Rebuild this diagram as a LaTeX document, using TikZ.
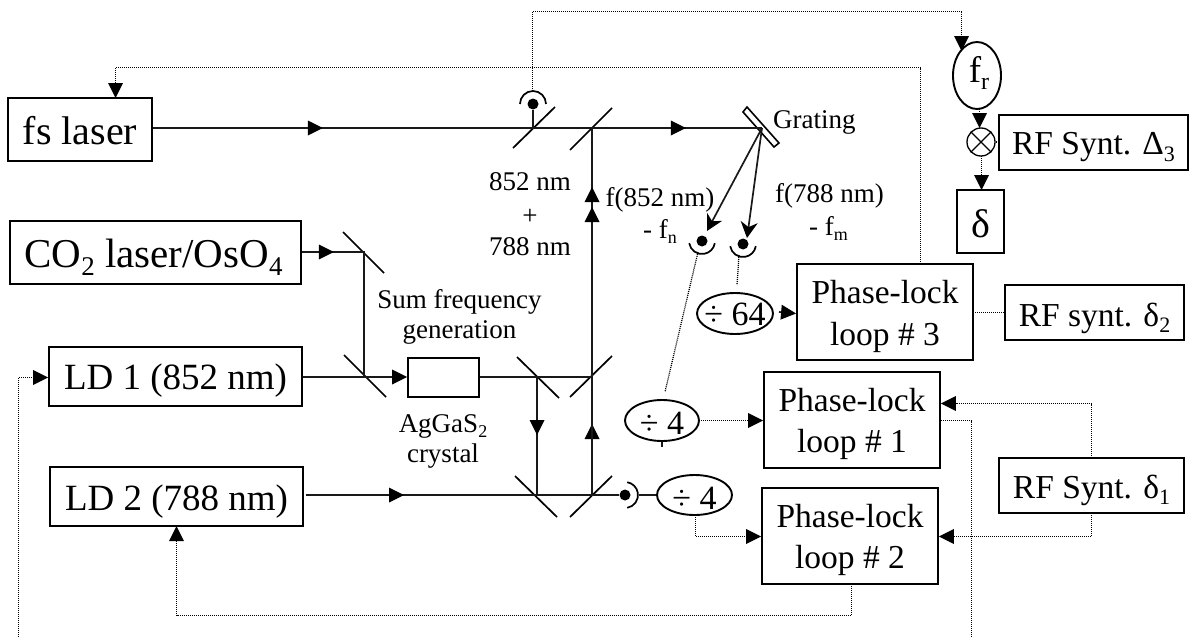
\documentclass[tikz,border=0pt]{standalone}
\usepackage{fontspec}
\setmainfont{Liberation Serif}
\usetikzlibrary{arrows.meta,shapes.geometric,decorations.markings}
\newcommand{\lowtext}[2]{\raisebox{-0.2em}{\fontsize{#1}{#1}\selectfont #2}}
\newcommand{\fsz}[1]{\fontsize{#1}{#1}\selectfont}
% text whose baseline lies #1 below the centre of its node, centre moved right by #2
\newcommand{\blx}[3][0pt]{\makebox[0pt][c]{\hspace*{#1}\hspace*{#1}\raisebox{-#2}[0pt][0pt]{#3}}}
\tikzset{
  x=1pt,y=-1pt,
  Tip/.tip={Triangle[length=15pt,width=15pt,black,line width=0pt]},
  boxed/.style={draw,line width=1.9pt,inner sep=0pt},
  oval/.style={draw,ellipse,line width=1.9pt,inner sep=0pt},
  label/.style={inner sep=0pt,anchor=base,font=\fsz{27}},
  beam/.style={line width=1.7pt,black!90},
  mirror/.style={line width=1.7pt},
  sig/.style={line width=1.25pt,dash pattern=on 1pt off 1pt,black},
  head/.style={-{Tip}},
  flowmark/.style={postaction={decorate,decoration={markings,mark=at position #1 with {\arrow[solid]{Tip}}}}},
  dot/.style={circle,fill=black,inner sep=0pt,minimum size=11pt},
  det/.style={line width=1.7pt},
}
\begin{document}
\begin{tikzpicture}
\useasboundingbox (0,0) rectangle (1192,637);

% boxes
\node[boxed,minimum width=144pt,minimum height=63pt,font=\fsz{40}] (fs) at (80,129.5) {\blx{15pt}{fs laser}};
\node[boxed,minimum width=291pt,minimum height=63pt,font=\fsz{41}] (co) at (155.5,252.5) {\blx[-2pt]{14.5pt}{CO\lowtext{27}{2} laser/OsO\lowtext{27}{4}}};
\node[boxed,minimum width=253pt,minimum height=59pt,font=\fsz{37}] (ld1) at (175.5,376.5) {\blx{13pt}{LD 1 (852 nm)}};
\node[boxed,minimum width=253pt,minimum height=59pt,font=\fsz{37}] (ld2) at (176.5,496.5) {\blx{13.5pt}{LD 2 (788 nm)}};
\node[boxed,minimum width=71pt,minimum height=39pt] (cr) at (443.5,377.5) {};
\node[boxed,minimum width=176pt,minimum height=96pt,font=\fsz{33.5}] (pll3) at (885,312) {\blx{-8.7pt}{Phase-lock}\blx{33pt}{loop \# 3}};
\node[boxed,minimum width=176pt,minimum height=96pt,font=\fsz{33.5}] (pll1) at (852,420) {\blx{-8.3pt}{Phase-lock}\blx{32.7pt}{loop \# 1}};
\node[boxed,minimum width=176pt,minimum height=96pt,font=\fsz{33.5}] (pll2) at (850,536) {\blx{-9pt}{Phase-lock}\blx{32pt}{loop \# 2}};
\node[boxed,minimum width=179pt,minimum height=55pt,font=\fsz{33.5}] (rf2) at (1094.5,312.5) {\blx{13.5pt}{RF synt. δ\lowtext{22}{2}}};
\node[boxed,minimum width=185pt,minimum height=55pt,font=\fsz{33.5}] (rf1) at (1091.5,485.5) {\blx{12.5pt}{RF Synt. δ\lowtext{22}{1}}};
\node[boxed,minimum width=189pt,minimum height=55pt,font=\fsz{33.5}] (rf3) at (1093.5,142.5) {\blx{12pt}{RF Synt. Δ\lowtext{22}{3}}};
\node[boxed,minimum width=47pt,minimum height=63pt,font=\fsz{40}] (dl) at (980.5,221.5) {\blx{15.5pt}{δ}};
\node[oval,minimum width=48pt,minimum height=67pt,font=\fsz{37}] (fr) at (977,75.5) {\blx[2pt]{6.5pt}{f\lowtext{24}{r}}};
\node[draw,circle,line width=1.3pt,minimum size=28pt,inner sep=0pt] (ot) at (981,142) {};
\draw[line width=1.3pt] (ot.45) -- (ot.225) (ot.135) -- (ot.315);
\node[oval,minimum width=76pt,minimum height=41pt,font=\fsz{34}] (d64) at (735,313.5) {\blx{11.5pt}{÷ 64}};
\node[oval,minimum width=74pt,minimum height=41pt,font=\fsz{34}] (d4a) at (662,420.5) {\blx{13.5pt}{÷ 4}};
\node[oval,minimum width=75pt,minimum height=40pt,font=\fsz{34}] (d4b) at (694.5,495) {\blx{14pt}{÷ 4}};

% beam crossing points
\coordinate (bs1) at (533,128);
\coordinate (bs2) at (592,128);
\coordinate (gr) at (762,128);
\coordinate (m1) at (364,252);
\coordinate (m2) at (364,377);
\coordinate (m3) at (537,377);
\coordinate (m4) at (592,377);
\coordinate (m5) at (537,495);
\coordinate (m6) at (592,495);

% mirrors
\draw[mirror] ([shift={(-20,20)}]bs1) -- ([shift={(22,-21)}]bs1);
\draw[mirror] ([shift={(-22,22)}]bs2) -- ([shift={(20,-20)}]bs2);
\draw[mirror] ([shift={(-21,-20)}]m1) -- ([shift={(20,21)}]m1);
\draw[mirror] ([shift={(-20,-22)}]m2) -- ([shift={(22,20)}]m2);
\draw[mirror] ([shift={(-20,-20)}]m3) -- ([shift={(22,21)}]m3);
\draw[mirror] ([shift={(-22,20)}]m4) -- ([shift={(20,-21)}]m4);
\draw[mirror] ([shift={(-22,-19)}]m5) -- ([shift={(20,22)}]m5);
\draw[mirror] ([shift={(-22,22)}]m6) -- ([shift={(20,-19)}]m6);

% grating
\draw[line width=1.6pt,fill=white] (743,112) -- (747,107) -- (779,143) -- (774,147) -- cycle;

% detectors
\node[dot] (d0) at (533,104) {};
\node[dot] (d1) at (702,241) {};
\node[dot] (d2) at (743,244) {};
\node[dot] (d3) at (625,495) {};
\draw[det] ([shift={(0:13pt)}]d0.center) arc[start angle=0,end angle=180,radius=13pt];
\draw[det] ([shift={(190:13pt)}]d1.center) arc[start angle=190,end angle=350,radius=13pt];
\draw[det] ([shift={(190:13pt)}]d2.center) arc[start angle=190,end angle=350,radius=13pt];
\draw[det] ([shift={(-80:13pt)}]d3.center) arc[start angle=-80,end angle=80,radius=13pt];

% solid beams
\draw[beam,flowmark=170pt,flowmark=533pt] (fs.east |- gr) -- (gr);
\draw[beam] (d0) -- (bs1);
\draw[beam,flowmark=32pt] (co.east |- m1) -- (m1) -- (m2);
\draw[beam,head] (ld1.east |- m2) -- (cr.west |- m2);
\draw[beam] (cr.east |- m4) -- (m4);
\draw[beam,flowmark=58pt] (m3) -- (m5);
\draw[beam,flowmark=71pt] (m6) -- (m4);
\draw[beam,flowmark=308pt,flowmark=288pt] (m6) -- (bs2);
\draw[beam,flowmark=98pt] (306,495) coordinate (ld2out) -- (d3);
\draw[beam] (d3.east) ++(8,0) -- (d4b.west);
\draw[beam,-{Stealth[length=16pt,width=17pt,inset=5pt,black]}] (gr) -- (707,231);
\draw[beam,-{Stealth[length=16pt,width=17pt,inset=5pt,black]}] (gr) -- (747,238);
\draw[beam,head] (779,312) -- (d64.east -| pll3.west);

% signal lines
\draw[sig] (532.5,91) -- (532.5,11.5) -- (961.5,11.5);
\draw[sig,head] (961.5,11.5) -- (961.5,51);
\draw[sig,head] (920.5,264) -- (920.5,67.5) -- (115.5,67.5) -- (115.5,98);
\draw[sig,head] (979.5,109) -- (979.5,128);
\draw[sig] (ot.east) -- (rf3.west |- ot.east);
\draw[sig,head] (981.5,156) -- (981.5,190);
\draw[sig] (698,252) -- (665,392);
\draw[sig] (739,255) -- (737,285);
\draw[sig] (973,312.5) -- (rf2.west |- 0,312.5);
\draw[sig,head] (699,420.5) -- (pll1.west |- 0,420.5);
\draw[beam,line width=1.2pt] (d4a.south) -- ++(0,5);
\draw[sig,head] (695.5,515) -- (695.5,536.5) -- (pll2.west |- 0,536.5);
\draw[sig] (pll1.east |- 0,420.5) -- (971.5,420.5) -- (971.5,637);
\draw[sig] (851.5,584) -- (851.5,615.5) -- (176.5,615.5);
\draw[sig,head] (176.5,615.5) -- (176.5,526);
\draw[sig,head] (18.5,637) -- (18.5,377.5) -- (ld1.west |- 0,377.5);
\draw[sig,head] (1091.5,458) -- (1091.5,403.5) -- (pll1.east |- 0,403.5);
\draw[sig,head] (1091.5,513) -- (1091.5,536.5) -- (pll2.east |- 0,536.5);

% labels
\node[label] (l1a) at (530,190) {852 nm};
\node[label] (l1b) at (530,224) {+};
\node[label] (l1c) at (530,255) {788 nm};
\node[label] (l2) at (660,206.5) {f(852 nm)};
\node[label] (l3) at (660,238) {- f\lowtext{18}{n}};
\node[label,anchor=base west] (l4) at (775,202) {f(788 nm)};
\node[label,anchor=base west] (l5) at (809,235) {- f\lowtext{18}{m}};
\node[label,anchor=base west] (l6) at (773,128) {Grating};
\node[label] (l7a) at (459.5,308) {Sum frequency};
\node[label] (l7b) at (459.5,338) {generation};
\node[label] (l8a) at (443,432) {AgGaS\lowtext{18}{2}};
\node[label] (l8b) at (443,462) {crystal};
\end{tikzpicture}
\end{document}
